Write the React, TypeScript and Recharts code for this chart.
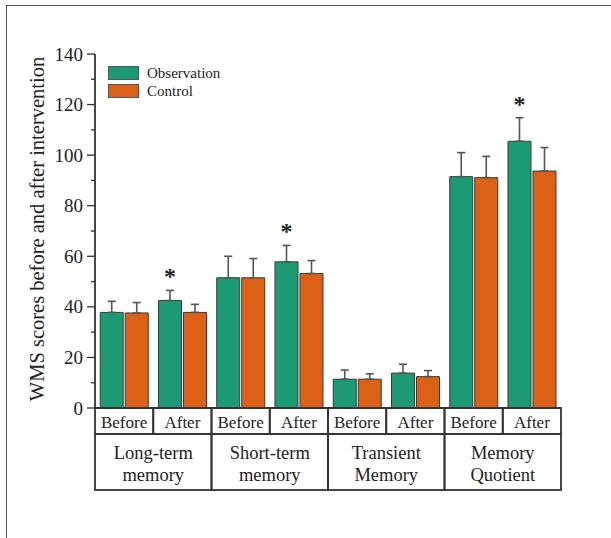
import { BarChart, Bar, XAxis, YAxis, ErrorBar, LabelList } from 'recharts';

// sub-categories on the x axis (4 groups x before/after)
const subLabels = ['Before', 'After', 'Before', 'After', 'Before', 'After', 'Before', 'After'];
const groupLabels = [
  ['Long-term', 'memory'],
  ['Short-term', 'memory'],
  ['Transient', 'Memory'],
  ['Memory', 'Quotient'],
];

const observation = [37.8, 42.5, 51.5, 57.8, 11.4, 13.8, 91.5, 105.5];
const observationErr = [4.4, 4.0, 8.5, 6.5, 3.6, 3.5, 9.5, 9.3];
const control = [37.6, 37.8, 51.5, 53.2, 11.4, 12.4, 91.1, 93.7];
const controlErr = [4.1, 3.2, 7.6, 5.1, 2.1, 2.4, 8.4, 9.3];
const significant = [false, true, false, true, false, false, false, true];

const yTicks = [0, 10, 20, 30, 40, 50, 60, 70, 80, 90, 100, 110, 120, 130, 140];

const W = 611;
const H = 538;
const MARGIN = { top: 54, right: 50, bottom: 48, left: 35 };
const Y_WIDTH = 60;
const X_HEIGHT = 82;
const PLOT_W = W - MARGIN.left - MARGIN.right - Y_WIDTH;
const PLOT_H = H - MARGIN.top - MARGIN.bottom - X_HEIGHT;
const Y_MAX = 140;

const GREEN = '#1c9a73';
const ORANGE = '#dc6016';
const INK = '#333';
const FONT = '"Liberation Serif", "Times New Roman", serif';

const data = subLabels.map((s, i) => ({
  key: i,
  sub: s,
  obs: observation[i],
  obsErr: [0, observationErr[i]],
  ctrl: control[i],
  ctrlErr: [0, controlErr[i]],
}));

function YTick(props: any) {
  const { x, y, payload } = props;
  const major = payload.value % 20 === 0;
  return (
    <g>
      <line x1={x - (major ? 8 : 4)} x2={x} y1={y} y2={y} stroke={INK} strokeWidth={1.3} />
      {major && (
        <text x={x - 12} y={y} textAnchor="end" dominantBaseline="central" fontSize={19} fill="#222" fontFamily={FONT}>
          {payload.value}
        </text>
      )}
    </g>
  );
}

// draws the two-row category table under the plot
function TableTick(props: any) {
  const { x, y, index } = props;
  const bw = PLOT_W / subLabels.length;
  const left = x - bw / 2;
  const g = Math.floor(index / 2);
  return (
    <g fontFamily={FONT} fill="#222">
      <rect x={left} y={y} width={bw} height={26} fill="none" stroke={INK} strokeWidth={1.8} />
      <text x={x} y={y + 14} textAnchor="middle" dominantBaseline="central" fontSize={17}>
        {subLabels[index]}
      </text>
      {index % 2 === 0 && (
        <g>
          <rect x={left} y={y + 26} width={bw * 2} height={56} fill="none" stroke={INK} strokeWidth={1.8} />
          <text x={left + bw} y={y + 45} textAnchor="middle" dominantBaseline="central" fontSize={18.5}>
            {groupLabels[g][0]}
          </text>
          <text x={left + bw} y={y + 67} textAnchor="middle" dominantBaseline="central" fontSize={18.5}>
            {groupLabels[g][1]}
          </text>
        </g>
      )}
    </g>
  );
}

function Star(props: any) {
  const { x, y, width, index } = props;
  if (!significant[index]) return null;
  const errPx = (observationErr[index] * PLOT_H) / Y_MAX;
  return (
    <text x={x + width / 2} y={y - errPx - 6} textAnchor="middle" fontSize={24} fontWeight="bold" fill="#222" fontFamily={FONT}>
      *
    </text>
  );
}

function YLabel(props: any) {
  const { viewBox } = props;
  const cx = viewBox.x + 2;
  const cy = viewBox.y + viewBox.height / 2 - 2;
  return (
    <text x={cx} y={cy} transform={`rotate(-90 ${cx} ${cy})`} textAnchor="middle" dominantBaseline="central" fontSize={20.5} fill="#222" fontFamily={FONT}>
      WMS scores before and after intervention
    </text>
  );
}

export default function App() {
  return (
    <div style={{ position: 'absolute', left: 0, top: 0, width: W, height: H, background: '#fff' }}>
      <div
        style={{
          position: 'absolute',
          left: 6,
          top: 5,
          width: W - 6,
          height: H - 5,
          borderLeft: '1.5px solid #555',
          borderTop: '1.5px solid #555',
        }}
      />
      <div style={{ position: 'absolute', left: 0, top: 0 }}>
        <BarChart width={W} height={H} data={data} margin={MARGIN} barCategoryGap="9%" barGap={2}>
          <XAxis
            dataKey="key"
            height={X_HEIGHT}
            interval={0}
            tickSize={0}
            tickMargin={0}
            tickLine={false}
            axisLine={{ stroke: INK, strokeWidth: 1.8 }}
            tick={<TableTick />}
          />
          <XAxis xAxisId="top" orientation="top" dataKey="key" height={0} tick={false} tickLine={false} axisLine={{ stroke: INK, strokeWidth: 1.8 }} />
          <YAxis
            width={Y_WIDTH}
            domain={[0, Y_MAX]}
            ticks={yTicks}
            interval={0}
            tickSize={0}
            tickMargin={0}
            tickLine={false}
            axisLine={{ stroke: INK, strokeWidth: 1.8 }}
            tick={<YTick />}
            label={<YLabel />}
          />
          <YAxis yAxisId="right" orientation="right" width={0} tick={false} tickLine={false} axisLine={{ stroke: INK, strokeWidth: 1.8 }} />
          <Bar dataKey="obs" fill={GREEN} stroke="#3a3a3a" strokeWidth={1} isAnimationActive={false}>
            <ErrorBar dataKey="obsErr" direction="y" width={4} stroke="#555" strokeWidth={1.6} />
            <LabelList dataKey="obs" content={<Star />} />
          </Bar>
          <Bar dataKey="ctrl" fill={ORANGE} stroke="#3a3a3a" strokeWidth={1} isAnimationActive={false}>
            <ErrorBar dataKey="ctrlErr" direction="y" width={4} stroke="#555" strokeWidth={1.6} />
          </Bar>
        </BarChart>
      </div>
      {/* legend */}
      <div style={{ position: 'absolute', left: 108, top: 64, fontFamily: FONT, fontSize: 15, color: '#222', lineHeight: '18px' }}>
        {[
          ['Observation', GREEN],
          ['Control', ORANGE],
        ].map(([name, c]) => (
          <div key={name} style={{ display: 'flex', alignItems: 'center', height: 18 }}>
            <span style={{ display: 'inline-block', width: 29, height: 12, background: c, border: '1px solid #555', marginRight: 8 }} />
            {name}
          </div>
        ))}
      </div>
    </div>
  );
}
